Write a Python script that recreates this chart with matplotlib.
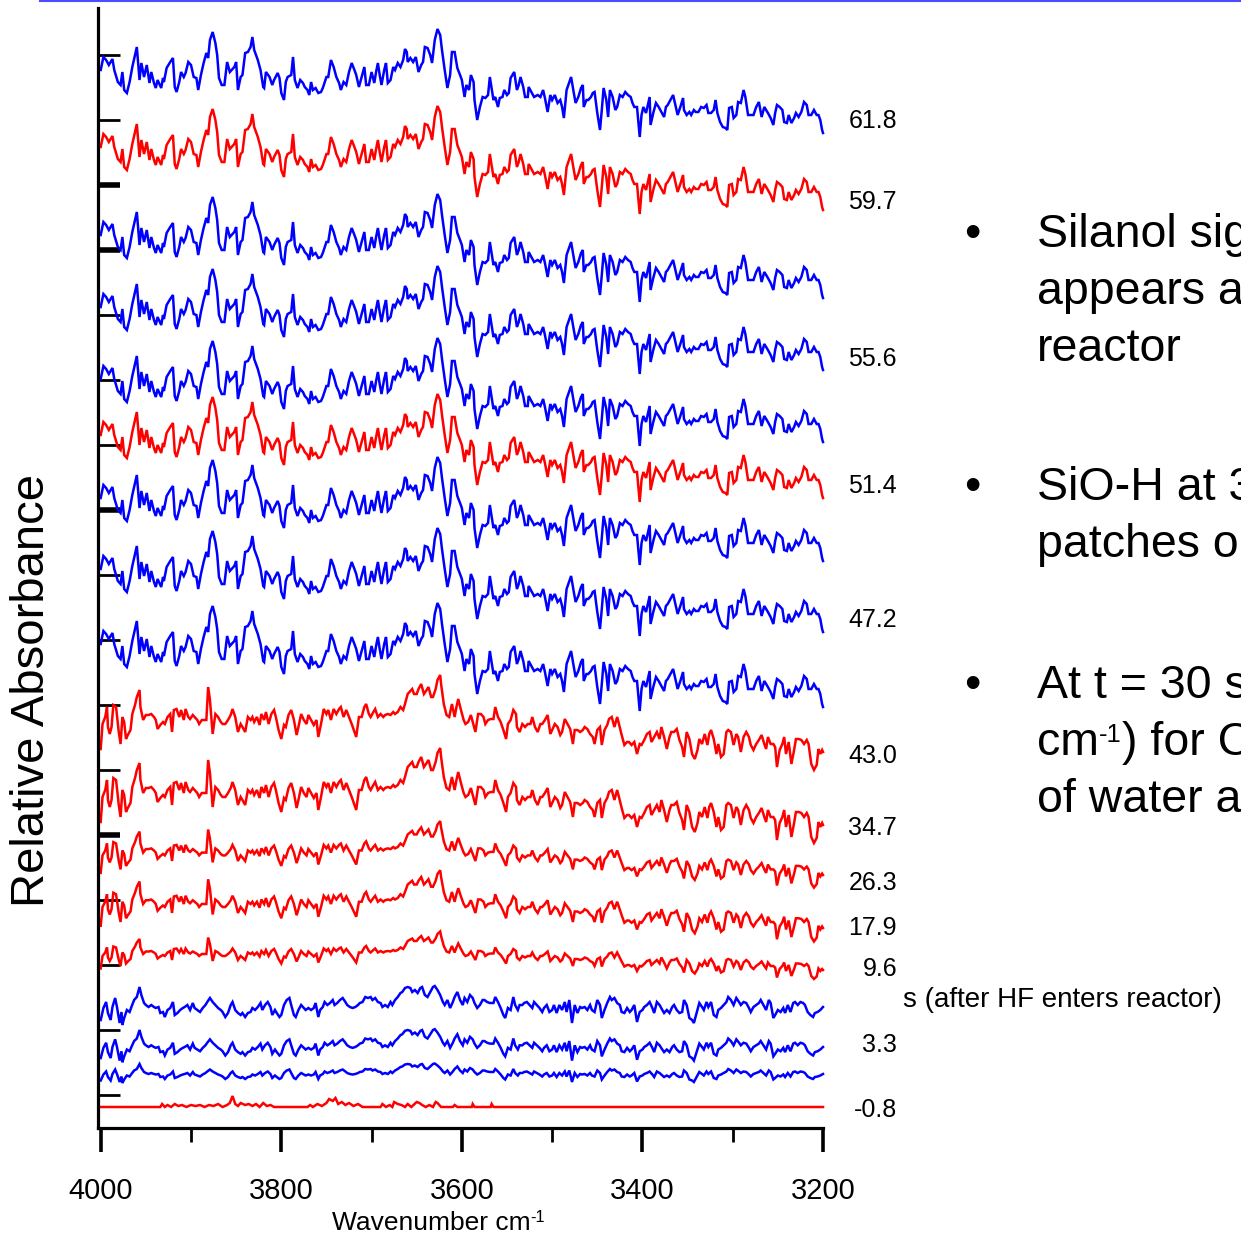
"""Stacked FTIR difference spectra of the O-H stretch region during HF exposure."""

import matplotlib
matplotlib.use("Agg")
import matplotlib.pyplot as plt
import matplotlib.transforms as mtransforms
from matplotlib.lines import Line2D
import numpy as np

plt.rcParams["font.family"] = ["Liberation Sans", "DejaVu Sans"]

# (wavenumber cm-1, relative absorbance) -- late spectra, t >= 47 s
late_spectrum = [
    (4000, 63), (3997, 76), (3994, 73), (3991, 68), (3987, 74), (3985, 63), (3981, 51), (3978, 48),
    (3976, 61), (3974, 43), (3971, 40), (3968, 51), (3965, 66), (3960, 86), (3957, 53), (3955, 70),
    (3952, 56), (3949, 68), (3946, 50), (3944, 61), (3941, 50), (3939, 45), (3937, 53), (3933, 45),
    (3931, 55), (3930, 51), (3927, 65), (3923, 71), (3920, 75), (3918, 46), (3916, 41), (3913, 51),
    (3911, 61), (3908, 56), (3906, 60), (3903, 71), (3900, 68), (3897, 56), (3894, 55), (3892, 43),
    (3889, 58), (3886, 70), (3883, 80), (3881, 75), (3879, 93), (3876, 101), (3873, 90), (3871, 78),
    (3869, 55), (3866, 48), (3863, 48), (3860, 71), (3857, 61), (3855, 63), (3852, 66), (3850, 71),
    (3848, 43), (3845, 56), (3843, 58), (3840, 80), (3837, 81), (3834, 86), (3832, 96), (3830, 83),
    (3826, 73), (3823, 63), (3820, 46), (3819, 45), (3817, 61), (3813, 56), (3810, 48), (3808, 53),
    (3804, 60), (3802, 55), (3800, 40), (3797, 33), (3795, 51), (3793, 56), (3789, 58), (3787, 76),
    (3785, 53), (3782, 45), (3779, 53), (3776, 50), (3774, 46), (3771, 43), (3769, 38), (3767, 51),
    (3765, 43), (3762, 45), (3759, 40), (3756, 41), (3754, 45), (3750, 56), (3748, 56), (3745, 73),
    (3742, 66), (3739, 56), (3736, 50), (3734, 43), (3731, 51), (3728, 48), (3725, 61), (3722, 70),
    (3719, 63), (3717, 58), (3714, 46), (3711, 56), (3708, 66), (3706, 48), (3703, 48), (3700, 61),
    (3697, 50), (3695, 61), (3693, 70), (3691, 58), (3689, 48), (3686, 63), (3684, 70), (3682, 50),
    (3679, 53), (3676, 66), (3674, 63), (3671, 70), (3668, 66), (3665, 73), (3663, 84), (3661, 81),
    (3660, 71), (3657, 75), (3654, 71), (3651, 76), (3648, 61), (3645, 68), (3643, 71), (3641, 86),
    (3638, 85), (3635, 78), (3633, 70), (3630, 93), (3627, 104), (3624, 98), (3622, 83), (3619, 63),
    (3616, 45), (3613, 58), (3611, 81), (3608, 81), (3605, 65), (3602, 58), (3600, 53), (3597, 36),
    (3595, 48), (3592, 43), (3590, 58), (3587, 51), (3586, 33), (3583, 13), (3580, 26), (3577, 36),
    (3574, 35), (3571, 38), (3569, 56), (3565, 33), (3563, 36), (3560, 26), (3558, 35), (3555, 36),
    (3553, 43), (3550, 38), (3548, 40), (3546, 55), (3542, 61), (3539, 43), (3537, 48), (3535, 56),
    (3532, 46), (3530, 36), (3527, 36), (3526, 46), (3523, 41), (3520, 36), (3516, 38), (3513, 36),
    (3510, 43), (3508, 35), (3505, 21), (3502, 38), (3500, 33), (3497, 38), (3494, 30), (3491, 33),
    (3489, 26), (3487, 15), (3484, 43), (3481, 51), (3479, 56), (3476, 40), (3474, 30), (3471, 36),
    (3468, 45), (3466, 48), (3465, 26), (3462, 33), (3460, 33), (3457, 36), (3455, 40), (3453, 41),
    (3450, 20), (3447, 3), (3445, 23), (3443, 45), (3440, 33), (3438, 16), (3436, 43), (3433, 36),
    (3430, 23), (3428, 26), (3425, 38), (3422, 36), (3419, 41), (3416, 38), (3413, 36), (3411, 30),
    (3409, 26), (3406, 26), (3403, -4), (3401, 18), (3399, 26), (3396, 20), (3392, 36), (3391, 8),
    (3388, 20), (3385, 30), (3382, 26), (3379, 21), (3376, 16), (3374, 26), (3372, 28), (3369, 33),
    (3366, 38), (3364, 30), (3361, 18), (3358, 26), (3355, 35), (3354, 23), (3351, 18), (3348, 21),
    (3346, 18), (3343, 23), (3341, 21), (3338, 21), (3335, 26), (3332, 25), (3329, 28), (3327, 20),
    (3324, 20), (3321, 23), (3319, 33), (3317, 20), (3314, 11), (3311, 6), (3308, 5), (3306, 3),
    (3304, 25), (3301, 26), (3299, 15), (3296, 18), (3294, 31), (3291, 30), (3288, 43), (3286, 36),
    (3283, 18), (3280, 18), (3277, 18), (3274, 26), (3271, 31), (3268, 16), (3265, 26), (3263, 23),
    (3261, 20), (3258, 15), (3255, 8), (3253, 20), (3251, 28), (3248, 26), (3245, 23), (3243, 11),
    (3240, 10), (3238, 18), (3235, 10), (3232, 15), (3230, 20), (3227, 16), (3224, 21), (3221, 31),
    (3218, 28), (3216, 18), (3213, 18), (3210, 23), (3207, 18), (3205, 18), (3203, 13), (3201, 3),
    (3200, 0),
]

# spectra between 9.6 and 43 s
mid_spectrum = [
    (4000, 3), (3998, 28), (3995, 35), (3993, 45), (3992, 25), (3990, 18), (3988, 25), (3986, 47),
    (3983, 45), (3981, 28), (3980, 20), (3978, 8), (3976, 35), (3974, 30), (3972, 13), (3970, 17),
    (3967, 22), (3965, 38), (3962, 47), (3960, 55), (3957, 62), (3956, 45), (3953, 32), (3950, 37),
    (3947, 37), (3944, 38), (3941, 35), (3939, 32), (3937, 23), (3934, 27), (3931, 30), (3929, 28),
    (3926, 35), (3923, 38), (3921, 20), (3919, 42), (3916, 43), (3913, 35), (3911, 42), (3908, 32),
    (3906, 43), (3903, 35), (3901, 33), (3898, 37), (3896, 35), (3893, 32), (3891, 28), (3888, 32),
    (3885, 32), (3883, 32), (3881, 65), (3879, 52), (3876, 18), (3873, 38), (3870, 35), (3867, 30),
    (3865, 28), (3862, 28), (3859, 32), (3856, 37), (3854, 43), (3851, 35), (3848, 20), (3845, 28),
    (3843, 25), (3840, 20), (3837, 35), (3834, 32), (3832, 35), (3830, 30), (3827, 35), (3824, 27),
    (3822, 38), (3819, 32), (3817, 40), (3814, 28), (3811, 38), (3808, 42), (3806, 35), (3803, 22),
    (3800, 13), (3797, 27), (3795, 25), (3792, 37), (3789, 42), (3786, 32), (3783, 17), (3781, 25),
    (3778, 38), (3775, 32), (3772, 28), (3770, 37), (3767, 32), (3764, 27), (3761, 32), (3759, 15),
    (3756, 28), (3753, 43), (3750, 38), (3748, 42), (3745, 32), (3742, 43), (3739, 38), (3736, 43),
    (3734, 45), (3731, 35), (3728, 42), (3725, 35), (3722, 28), (3719, 20), (3717, 15), (3714, 35),
    (3711, 35), (3708, 45), (3706, 48), (3703, 38), (3701, 35), (3698, 40), (3696, 43), (3693, 35),
    (3690, 38), (3687, 35), (3685, 37), (3682, 38), (3679, 37), (3676, 40), (3674, 38), (3671, 40),
    (3668, 45), (3665, 42), (3663, 48), (3660, 58), (3658, 60), (3655, 63), (3653, 58), (3650, 58),
    (3648, 63), (3645, 68), (3642, 58), (3639, 62), (3637, 65), (3634, 55), (3632, 55), (3629, 63),
    (3627, 72), (3624, 77), (3623, 68), (3620, 48), (3617, 37), (3614, 35), (3611, 48), (3608, 35),
    (3606, 45), (3604, 53), (3601, 42), (3598, 32), (3596, 28), (3593, 30), (3590, 37), (3587, 27),
    (3585, 20), (3582, 38), (3579, 38), (3576, 35), (3574, 28), (3571, 32), (3568, 33), (3565, 33),
    (3563, 45), (3560, 35), (3557, 30), (3554, 22), (3551, 13), (3549, 28), (3546, 32), (3543, 42),
    (3540, 38), (3539, 25), (3536, 20), (3533, 28), (3530, 25), (3527, 28), (3524, 28), (3522, 35),
    (3519, 25), (3516, 20), (3513, 28), (3511, 28), (3508, 32), (3505, 37), (3502, 18), (3500, 22),
    (3497, 28), (3494, 25), (3491, 17), (3489, 20), (3486, 33), (3483, 28), (3480, 23), (3477, 8),
    (3475, 22), (3472, 22), (3469, 20), (3466, 22), (3464, 25), (3461, 23), (3458, 18), (3455, 15),
    (3453, 8), (3450, 22), (3447, 25), (3445, 7), (3442, 22), (3439, 27), (3437, 33), (3434, 35),
    (3431, 25), (3428, 35), (3426, 28), (3423, 17), (3420, 7), (3417, 10), (3415, 10), (3412, 7),
    (3409, 10), (3406, -2), (3403, 8), (3401, 7), (3398, 12), (3395, 18), (3392, 20), (3390, 10),
    (3387, 15), (3384, 20), (3381, 13), (3379, 25), (3376, 15), (3373, 3), (3370, 15), (3368, 20),
    (3365, 20), (3362, 23), (3359, 12), (3356, 5), (3354, -5), (3351, 20), (3348, 13), (3345, -2),
    (3342, -7), (3339, 2), (3337, 13), (3334, 8), (3331, 18), (3328, 7), (3326, 18), (3324, 22),
    (3321, 13), (3318, -2), (3316, 8), (3313, -5), (3310, -2), (3307, 20), (3305, 22), (3302, 20),
    (3299, 7), (3296, 18), (3294, 15), (3291, 0), (3288, 15), (3285, 20), (3282, 15), (3280, 7),
    (3277, 2), (3274, 8), (3271, 12), (3268, 17), (3265, 8), (3263, 3), (3261, 15), (3258, 8),
    (3255, 8), (3253, 5), (3251, -15), (3248, 2), (3245, 8), (3243, 15), (3241, -2), (3238, 10),
    (3235, -12), (3232, 2), (3230, 13), (3227, 13), (3224, 12), (3221, 8), (3218, 12), (3216, 8),
    (3213, -12), (3210, -18), (3207, -13), (3205, 3), (3203, -2), (3201, 2), (3200, 0),
]

# first few seconds after HF enters
early_spectrum = [
    (4000, -13), (3997, -1), (3994, 5), (3992, -6), (3989, -13), (3987, 0), (3984, 9), (3982, 0),
    (3979, -16), (3977, -5), (3976, -18), (3974, -11), (3971, -3), (3968, -5), (3966, 0), (3963, 7),
    (3960, 10), (3957, 20), (3955, 12), (3952, 4), (3950, 2), (3947, 0), (3944, 2), (3941, 0),
    (3939, -1), (3936, 0), (3934, -6), (3931, -5), (3929, -10), (3926, -3), (3923, -1), (3920, 5),
    (3918, -8), (3915, -6), (3912, -3), (3909, -1), (3907, 0), (3904, 2), (3901, -3), (3898, 4),
    (3896, -1), (3893, -3), (3890, -5), (3887, -1), (3884, 2), (3882, 5), (3879, 9), (3876, 5),
    (3873, 2), (3870, -1), (3867, -3), (3865, -5), (3862, -10), (3859, -6), (3856, 2), (3854, 5),
    (3851, -3), (3848, -6), (3845, -8), (3843, -6), (3840, -10), (3837, -6), (3834, -5), (3832, -1),
    (3829, -3), (3826, 0), (3823, 4), (3821, -3), (3818, 2), (3815, 5), (3812, 0), (3810, -8),
    (3807, -3), (3805, -6), (3802, -10), (3800, -8), (3797, 2), (3794, 7), (3791, 9), (3789, 2),
    (3786, -8), (3784, -10), (3781, -3), (3778, 2), (3775, -1), (3773, -3), (3770, -1), (3767, -3),
    (3764, -1), (3762, 4), (3759, -10), (3757, -3), (3754, 0), (3752, 5), (3749, 2), (3746, 4),
    (3743, 7), (3741, 2), (3738, 4), (3735, 7), (3732, 9), (3729, 5), (3727, 2), (3724, 0),
    (3721, -1), (3718, 0), (3715, 2), (3713, 4), (3710, 5), (3707, 10), (3704, 9), (3701, 10),
    (3699, 7), (3696, 9), (3693, 5), (3690, 4), (3688, 0), (3685, 2), (3682, 0), (3679, 5),
    (3677, 2), (3674, 7), (3671, 10), (3668, 14), (3666, 15), (3663, 19), (3660, 20), (3657, 19),
    (3655, 15), (3652, 17), (3649, 14), (3646, 19), (3644, 20), (3641, 12), (3638, 10), (3635, 15),
    (3632, 20), (3630, 21), (3627, 17), (3624, 12), (3621, 5), (3619, 2), (3616, 7), (3613, -1),
    (3610, 5), (3608, 10), (3605, 15), (3602, 7), (3599, 2), (3597, 9), (3594, 5), (3591, 12),
    (3588, 9), (3586, 4), (3583, -1), (3580, 2), (3577, 7), (3575, 7), (3572, 5), (3569, 4),
    (3565, 4), (3563, 10), (3560, 5), (3557, -1), (3554, -8), (3552, -11), (3549, -1), (3546, -3),
    (3543, 10), (3541, 2), (3538, -3), (3536, 2), (3533, 2), (3531, 4), (3528, 5), (3525, 2),
    (3522, -1), (3520, 5), (3517, 2), (3514, -1), (3511, -5), (3509, -1), (3506, 2), (3503, -5),
    (3500, -3), (3498, 2), (3495, -6), (3492, 2), (3489, -3), (3486, 5), (3484, -5), (3481, 7),
    (3478, -16), (3475, 2), (3472, -6), (3469, 0), (3467, -1), (3464, 0), (3461, -3), (3458, 2),
    (3456, -3), (3453, -5), (3450, 7), (3447, 2), (3445, -11), (3442, -3), (3439, 4), (3436, 10),
    (3434, 7), (3431, 9), (3428, 4), (3425, 2), (3423, -5), (3420, -6), (3417, -1), (3414, -5),
    (3412, -3), (3409, 2), (3406, -15), (3403, -5), (3400, -3), (3398, 0), (3395, 2), (3392, 5),
    (3389, -1), (3387, -6), (3384, 5), (3381, 2), (3378, -3), (3376, -6), (3373, -3), (3370, -6),
    (3367, 0), (3365, 2), (3362, -3), (3359, -6), (3356, -5), (3354, 7), (3351, 2), (3348, -11),
    (3345, -13), (3343, -16), (3340, -6), (3337, 4), (3334, 0), (3332, -3), (3329, 5), (3327, 0),
    (3324, 5), (3321, -8), (3318, -10), (3316, -3), (3313, -1), (3310, 2), (3307, 5), (3305, 10),
    (3302, 7), (3299, 2), (3296, 9), (3293, 5), (3291, 2), (3288, 5), (3285, 4), (3282, -1),
    (3280, -5), (3277, 0), (3274, 2), (3271, 4), (3269, 7), (3266, 2), (3263, -3), (3260, 7),
    (3258, 4), (3255, -11), (3253, -8), (3250, -3), (3247, -5), (3244, -1), (3242, -6), (3239, 2),
    (3236, -5), (3233, 4), (3231, 5), (3228, 2), (3225, 5), (3222, 4), (3220, 2), (3217, -5),
    (3214, -8), (3211, -10), (3209, -6), (3206, -5), (3203, -3), (3200, 0),
]

# reference spectrum before HF
zero_spectrum = [
    (4000, 0), (3934, 0), (3932, 3), (3929, 0), (3926, 2), (3922, 0), (3918, 3), (3914, 1),
    (3910, 2), (3905, 0), (3900, 2), (3895, 1), (3890, 2), (3885, 0), (3880, 2), (3875, 1),
    (3870, 3), (3865, 0), (3860, 2), (3857, 4), (3854, 11), (3851, 3), (3848, 1), (3845, 4),
    (3840, 2), (3836, 3), (3832, 1), (3828, 3), (3824, 0), (3820, 4), (3816, 1), (3812, 2),
    (3808, 0), (3771, 0), (3768, 2), (3765, 0), (3760, 3), (3755, 1), (3750, 4), (3747, 8),
    (3743, 6), (3740, 9), (3737, 3), (3733, 5), (3729, 2), (3725, 4), (3720, 1), (3715, 3),
    (3710, 0), (3690, 0), (3688, 3), (3684, 0), (3680, 2), (3677, 0), (3675, 5), (3671, 3),
    (3667, 2), (3663, 0), (3660, 3), (3656, 0), (3650, 5), (3647, 4), (3644, 2), (3640, 0),
    (3636, 2), (3632, 0), (3629, 5), (3627, 4), (3623, 0), (3610, 0), (3608, 2), (3605, 0),
    (3589, 0), (3588, 3), (3586, 0), (3568, 0), (3567, 3), (3565, 0), (3200, 0),
]

# one entry per trace, top to bottom
trace_shape = ["late"] * 9 + ["mid"] * 5 + ["early"] * 3 + ["zero"]
trace_color = ["b", "r", "b", "b", "b", "r", "b", "b", "b",
               "r", "r", "r", "r", "r", "b", "b", "b", "r"]
stack_offsets = [995, 918, 830, 758, 686, 630, 567, 496, 421,
                 376, 303, 253, 200, 158, 121, 81, 54, 21]
amp_scale = [1, 1, 1, 1, 1, 1, 1, 1, 1,
             1, 1, 0.7, 0.75, 0.5, 1, 0.85, 0.5, 1]

time_labels = ["61.8", "59.7", "55.6", "51.4", "47.2", "43.0",
               "34.7", "26.3", "17.9", "9.6", "3.3", "-0.8"]
label_y = [1007, 926, 769, 642, 508, 372, 300, 245, 200, 159, 83, 18]

# bullet text: each line is a list of (text, superscript?) runs
bullet_lines = [
    [[("Silanol sig", False)], [("appears a", False)], [("reactor", False)]],
    [[("SiO-H at 3", False)], [("patches o", False)]],
    [[("At t = 30 s", False)], [("cm", False), ("-1", True), (") for C", False)],
     [("of water a", False)]],
]
bullet_baseline_px = [247, 500, 698]

spectra = {"late": late_spectrum, "mid": mid_spectrum,
           "early": early_spectrum, "zero": zero_spectrum}
COLORS = {"b": "#0000ff", "r": "#ff0000"}

W, H = 1241, 1235
fig = plt.figure(figsize=(W / 100, H / 100), dpi=100)
fig.patch.set_facecolor("white")
ax = fig.add_axes([98 / W, 1 - 1128 / H, 725 / W, 1120 / H])

for shape, col, off, amp in zip(trace_shape, trace_color, stack_offsets, amp_scale):
    wn, ab = zip(*spectra[shape])
    ax.plot(wn, off + amp * np.asarray(ab, dtype=float), color=COLORS[col],
            linewidth=1.8, solid_joinstyle="miter", clip_on=False)

ax.set_xlim(4003, 3200)
ax.set_ylim(0, 1120)

for side in ("top", "right"):
    ax.spines[side].set_visible(False)
for side in ("left", "bottom"):
    ax.spines[side].set_linewidth(2.3)
    ax.spines[side].set_color("black")

ax.set_xticks([4000, 3800, 3600, 3400, 3200])
ax.set_xticks([3900, 3700, 3500, 3300], minor=True)
ax.tick_params(axis="x", which="major", direction="out", length=17, width=2.6,
               labelsize=21, pad=18)
ax.tick_params(axis="x", which="minor", direction="out", length=10, width=2.0)

thick = [943, 878, 618, 293]
thin = [v for v in range(33, 1120, 65) if v not in thick]
ax.set_yticks(thick)
ax.set_yticks(thin, minor=True)
ax.tick_params(axis="y", which="major", direction="in", length=16, width=4.0,
               labelleft=False)
ax.tick_params(axis="y", which="minor", direction="in", length=16, width=2.0)

lab_tr = mtransforms.blended_transform_factory(ax.transAxes, ax.transData)
for txt, yv in zip(time_labels, label_y):
    ax.text((897 - 98) / 725, yv, txt, transform=lab_tr, ha="right", va="center",
            fontsize=18, clip_on=False)

renderer = fig.canvas.get_renderer()


def draw_runs(x_px, base_px, runs, size, sup_scale=0.55, sup_rise=0.28):
    """Write text runs left to right on one baseline, raising superscripts."""
    x = x_px
    for text, sup in runs:
        fs = size * sup_scale if sup else size
        y = base_px - (sup_rise * size * 100 / 72 if sup else 0)
        t = fig.text(x / W, 1 - y / H, text, fontsize=fs, ha="left", va="baseline")
        x += t.get_window_extent(renderer).width


draw_runs(332, 1230, [("Wavenumber cm", False), ("-1", True)], 19,
          sup_scale=0.62, sup_rise=0.3)
fig.text(32 / W, 1 - 690 / H, "Relative Absorbance", rotation=90, ha="center",
         va="center", fontsize=34)
fig.text(903 / W, 1 - 1000 / H, "s (after HF enters reactor)", ha="left",
         va="center", fontsize=20)

line_gap = 57
bullet_size = 33.5
for lines, base in zip(bullet_lines, bullet_baseline_px):
    fig.text(972 / W, 1 - base / H, "\u2022", ha="center", va="baseline",
             fontsize=bullet_size)
    for k, runs in enumerate(lines):
        draw_runs(1037, base + k * line_gap, runs, bullet_size)

fig.add_artist(Line2D([40 / W, 1.0], [1 - 1 / H, 1 - 1 / H], transform=fig.transFigure,
                      color="#4d4dff", linewidth=1.5))

fig.savefig("out.png", dpi=100)
